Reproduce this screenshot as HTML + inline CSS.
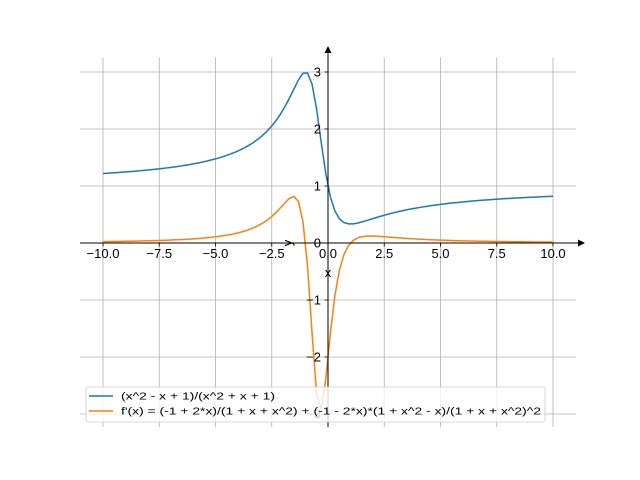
<!DOCTYPE html>
<html><head><meta charset="utf-8"><style>body{margin:0;background:#fff}svg{display:block}text{font-family:"Liberation Sans","DejaVu Sans",sans-serif}</style></head>
<body>
<svg id="s" width="640" height="480" xmlns="http://www.w3.org/2000/svg">
<rect width="640" height="480" fill="#fff"/>
<g id="grid" stroke="#b0b0b0" stroke-width="0.8"></g>
<g id="ticks" stroke="#000" stroke-width="0.8"></g>
<polyline id="b" fill="none" stroke="#1f77b4" stroke-width="1.5"/>
<polyline id="o" fill="none" stroke="#ff7f0e" stroke-width="1.5"/>
<line x1="80" y1="243" x2="580" y2="243" stroke="#000" stroke-width="1"/>
<polygon points="585,243 578,239.5 578,246.5" fill="#000"/>
<line x1="328" y1="427" x2="328" y2="52" stroke="#000" stroke-width="1"/>
<polygon points="328,46 324.5,53 331.5,53" fill="#000"/>
<g id="lab" font-size="13" fill="#000"></g>
<text x="328" y="277" font-size="13" text-anchor="middle">x</text>
<text x="0" y="0" font-size="13" text-anchor="middle" transform="translate(292,243) rotate(-90)">y</text>
<rect x="86" y="387" width="459" height="35" rx="2" fill="#fff" fill-opacity="0.8" stroke="#ccc" stroke-width="0.8"/>
<line x1="89" y1="396" x2="113" y2="396" stroke="#1f77b4" stroke-width="1.5"/>
<line x1="89" y1="411" x2="113" y2="411" stroke="#ff7f0e" stroke-width="1.5"/>
<text x="121" y="399.5" font-size="10" textLength="154" lengthAdjust="spacingAndGlyphs">(x^2 - x + 1)/(x^2 + x + 1)</text>
<text x="121" y="414.5" font-size="10" textLength="420" lengthAdjust="spacingAndGlyphs">f'(x) = (-1 + 2*x)/(1 + x + x^2) + (-1 - 2*x)*(1 + x^2 - x)/(1 + x + x^2)^2</text>
</svg>
<script>
var NS="http://www.w3.org/2000/svg";
function px(x){return 328+x*22.5}function py(y){return 243-y*57}
function el(p,t,a){var e=document.createElementNS(NS,t);for(var k in a)e.setAttribute(k,a[k]);p.appendChild(e);return e}
var g=document.getElementById("grid"),tk=document.getElementById("ticks"),lb=document.getElementById("lab");
for(var i=-4;i<=4;i++){var x=i*2.5,X=px(x);
el(g,"line",{x1:X,y1:57.6,x2:X,y2:427});
el(tk,"line",{x1:X,y1:243,x2:X,y2:246.5});
var t=el(lb,"text",{x:X,y:258,"text-anchor":"middle"});t.textContent=x.toFixed(1).replace("-","\u2212");}
for(var j=-3;j<=3;j++){var Y=py(j);
el(g,"line",{x1:80,y1:Y,x2:576,y2:Y});
el(tk,"line",{x1:324.5,y1:Y,x2:328,y2:Y});
var t=el(lb,"text",{x:321,y:Y+4.5,"text-anchor":"end"});t.textContent=(j<0?"\u2212"+(-j):""+j);}
var b=[],o=[];
for(var k=0;k<100;k++){var x=-10+20*k/99,d=x*x+x+1;
var f=(x*x-x+1)/d,fp=2*(x*x-1)/(d*d);
b.push(px(x).toFixed(2)+","+py(f).toFixed(2));o.push(px(x).toFixed(2)+","+py(fp).toFixed(2));}
document.getElementById("b").setAttribute("points",b.join(" "));
document.getElementById("o").setAttribute("points",o.join(" "));
</script>
</body></html>
